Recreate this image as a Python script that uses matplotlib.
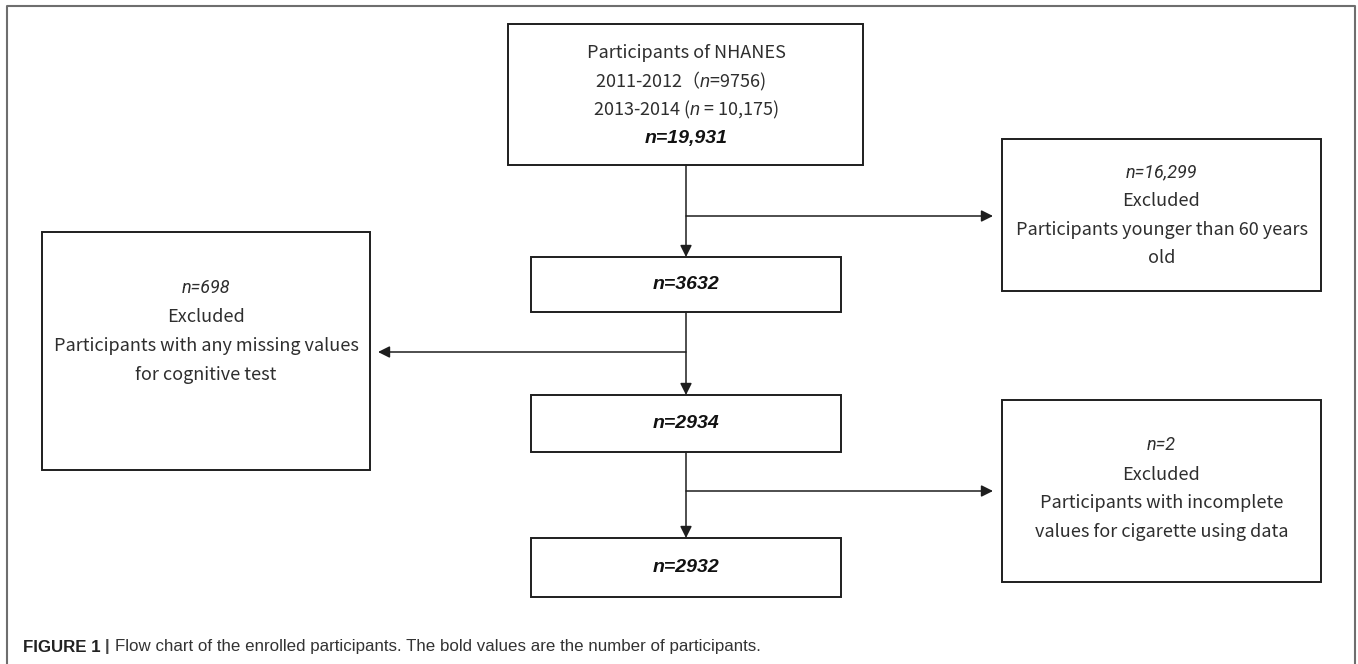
import matplotlib
matplotlib.use("Agg")
import matplotlib.pyplot as plt
from matplotlib.patches import Rectangle
from matplotlib.transforms import IdentityTransform

# datos del diagrama de flujo
stage_counts = [19931, 3632, 2934, 2932]
cycle_labels = ["2011-2012", "2013-2014"]
cycle_counts = [9756, 10175]
excluded_counts = [16299, 698, 2]
excluded_reasons = [
    ["Participants younger than 60 years", "old"],
    ["Participants with any missing values", "for cognitive test"],
    ["Participants with incomplete", "values for cigarette using data"],
]
caption_bold = "FIGURE 1"
caption_text = "Flow chart of the enrolled participants. The bold values are the number of participants."

plt.rcParams['font.family'] = ['Noto Sans CJK SC', 'DejaVu Sans']
plt.rcParams['mathtext.fontset'] = 'custom'
plt.rcParams['mathtext.it'] = 'Liberation Sans:italic'
plt.rcParams['mathtext.rm'] = 'Noto Sans CJK SC'

TXT = '#2e2e2e'
BOX = '#1e1e1e'
LINE = '#5a5a5a'
W = 'light'


def fmt(n):
    return f"{n:,}" if n >= 10000 else str(n)


def caja(ax, x0, y0, x1, y1):
    ax.add_patch(Rectangle((x0, y0), x1 - x0, y1 - y0, fill=False,
                           edgecolor=BOX, linewidth=1.4))


def flecha(ax, start, end):
    ax.annotate("", xy=end, xytext=start,
                arrowprops=dict(arrowstyle='-|>,head_length=0.7,head_width=0.35',
                                color='#1e1e1e', lw=1.1, shrinkA=0, shrinkB=0))


fig = plt.figure(figsize=(13.58, 6.64), dpi=100)
ax = fig.add_axes([0, 0, 1, 1])
ax.set_xlim(0, 1358)
ax.set_ylim(664, 0)
ax.axis('off')

# marco exterior
ax.plot([7, 7, 1355, 1355], [664, 6, 6, 664], color='#6e6e6e', linewidth=1.5)

cx = 686
fs = 13

# caja principal
caja(ax, 508, 24, 863, 165)
ax.text(cx, 53, "Participants of NHANES", ha='center', va='center', fontsize=fs, color=TXT, weight=W)
ax.text(cx - 5, 81, f"{cycle_labels[0]}（$n$={fmt(cycle_counts[0])})",
        ha='center', va='center', fontsize=fs, color=TXT, weight=W)
ax.text(cx, 110, f"{cycle_labels[1]} ($n$ = {fmt(cycle_counts[1])})",
        ha='center', va='center', fontsize=fs, color=TXT, weight=W)
ax.text(cx, 138, f"n={fmt(stage_counts[0])}", ha='center', va='center', fontsize=14,
        family='Liberation Sans', style='italic', weight='bold', color='#111111')

# cajas intermedias
mid_boxes = [(257, 312), (395, 452), (538, 597)]
for (y0, y1), n in zip(mid_boxes, stage_counts[1:]):
    caja(ax, 531, y0, 841, y1)
    ax.text(cx, (y0 + y1) / 2, f"n={fmt(n)}", ha='center', va='center', fontsize=14,
            family='Liberation Sans', style='italic', weight='bold', color='#111111')

# conectores verticales
trunks = [(165, 257), (312, 395), (452, 538)]
for y0, y1 in trunks:
    flecha(ax, (cx, y0), (cx, y1))

# cajas de excluidos
excl_boxes = [(1002, 139, 1321, 291), (42, 232, 370, 470), (1002, 400, 1321, 582)]
excl_lines = [[172, 201, 230, 258], [288, 317, 346, 375], [445, 475, 503, 532]]
branch_y = [216, 352, 491]
branch_end = [993, 378, 993]
for i, (x0, y0, x1, y1) in enumerate(excl_boxes):
    caja(ax, x0, y0, x1, y1)
    bx = (x0 + x1) / 2
    ly = excl_lines[i]
    ax.text(bx, ly[0], f"n={fmt(excluded_counts[i])}", ha='center', va='center',
            fontsize=fs, family='Roboto', style='italic', weight='normal', color=TXT)
    ax.text(bx, ly[1], "Excluded", ha='center', va='center', fontsize=fs, color=TXT, weight=W)
    ax.text(bx, ly[2], excluded_reasons[i][0], ha='center', va='center', fontsize=fs, color=TXT, weight=W)
    ax.text(bx, ly[3], excluded_reasons[i][1], ha='center', va='center', fontsize=fs, color=TXT, weight=W)
    flecha(ax, (cx, branch_y[i]), (branch_end[i], branch_y[i]))

# pie de figura
cap_fs = 12.2
yb = 664 - 647
fig.canvas.draw()
r = fig.canvas.get_renderer()
t1 = ax.text(23, yb, caption_bold + " ", ha='left', va='center', fontsize=cap_fs,
             family='Liberation Sans', weight='bold', color='#222222',
             transform=IdentityTransform())
x_next = t1.get_window_extent(r).x1
t2 = ax.text(x_next, yb, "| ", ha='left', va='center', fontsize=cap_fs,
             family='Liberation Sans', weight='bold', color='#444444',
             transform=IdentityTransform())
x_next = t2.get_window_extent(r).x1
ax.text(x_next, yb, caption_text, ha='left', va='center', fontsize=cap_fs,
        family='Liberation Sans', color='#333333', transform=IdentityTransform())

fig.savefig("out.png", dpi=100)
